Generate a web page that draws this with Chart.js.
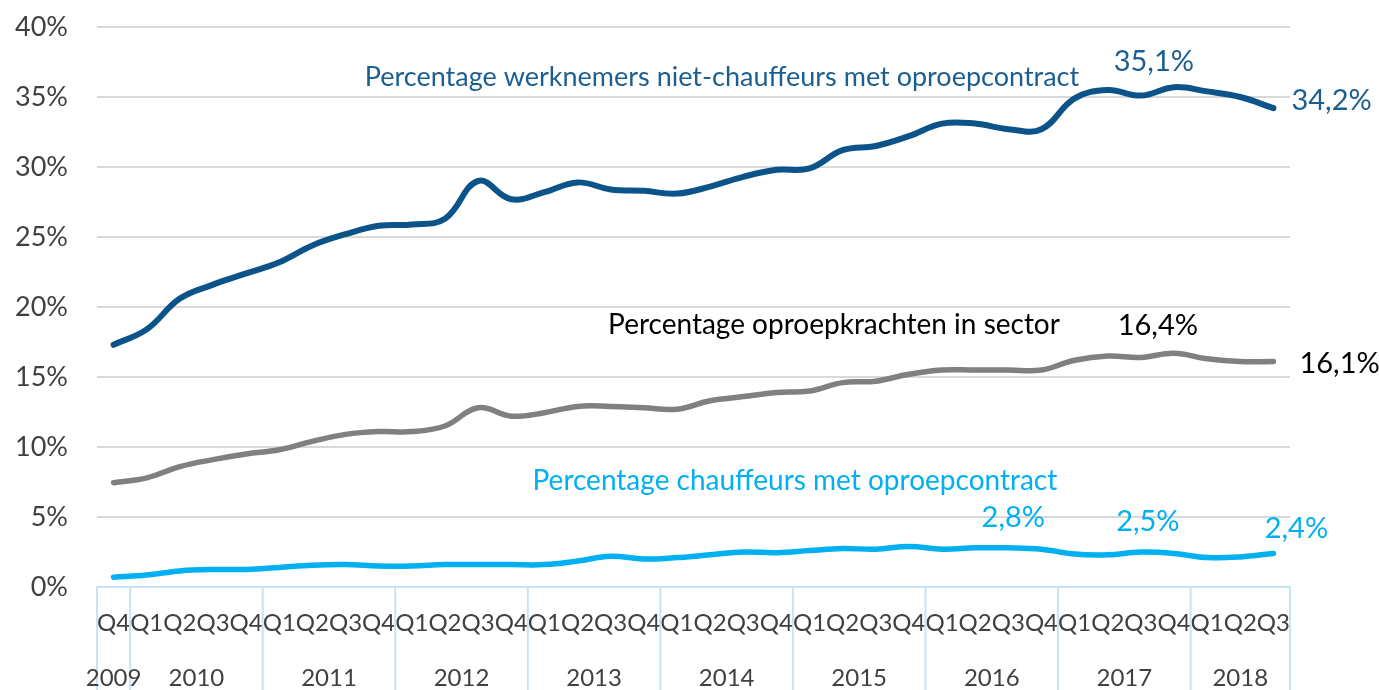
<!DOCTYPE html>
<html>
<head>
<meta charset="utf-8">
<script src="https://cdn.jsdelivr.net/npm/chart.js@4/dist/chart.umd.min.js"></script>
<style>
  html, body { margin: 0; padding: 0; background: #ffffff; }
  #wrap { width: 1379px; height: 690px; }
</style>
</head>
<body>
<div id="wrap"><canvas id="grafiek" width="1379" height="690"></canvas></div>
<script>
// kwartalen Q4 2009 t/m Q3 2018
const kwartalen = ["Q4",
  "Q1", "Q2", "Q3", "Q4", "Q1", "Q2", "Q3", "Q4", "Q1", "Q2", "Q3", "Q4",
  "Q1", "Q2", "Q3", "Q4", "Q1", "Q2", "Q3", "Q4", "Q1", "Q2", "Q3", "Q4",
  "Q1", "Q2", "Q3", "Q4", "Q1", "Q2", "Q3", "Q4", "Q1", "Q2", "Q3"];
const jaren = ["2009", "2010", "2011", "2012", "2013", "2014", "2015", "2016", "2017", "2018"];

const nietChauffeurs = [17.3, 18.4, 20.6, 21.6, 22.4, 23.2, 24.4, 25.2, 25.8, 25.9, 26.3, 29.0,
  27.7, 28.2, 28.9, 28.4, 28.3, 28.1, 28.6, 29.3, 29.8, 29.9, 31.2, 31.5,
  32.2, 33.1, 33.1, 32.7, 32.7, 34.9, 35.5, 35.1, 35.7, 35.4, 35.0, 34.2];
const oproepSector = [7.45, 7.8, 8.6, 9.1, 9.5, 9.8, 10.4, 10.9, 11.1, 11.1, 11.5, 12.8,
  12.2, 12.45, 12.9, 12.9, 12.8, 12.7, 13.3, 13.6, 13.9, 14.0, 14.6, 14.7,
  15.2, 15.5, 15.5, 15.5, 15.5, 16.2, 16.5, 16.4, 16.7, 16.3, 16.1, 16.1];
const chauffeurs = [0.7, 0.85, 1.15, 1.25, 1.25, 1.4, 1.55, 1.6, 1.5, 1.5, 1.6, 1.6,
  1.6, 1.6, 1.85, 2.2, 2.0, 2.1, 2.3, 2.5, 2.45, 2.6, 2.75, 2.7,
  2.9, 2.7, 2.8, 2.8, 2.7, 2.35, 2.3, 2.5, 2.4, 2.1, 2.15, 2.4];

const yTicks = [0, 5, 10, 15, 20, 25, 30, 35, 40];

const kleurDonker = "#0b5389";
const kleurGrijs = "#808080";
const kleurLicht = "#00b0f0";
const FONT = "Lato, 'Open Sans', sans-serif";

// series-namen in data-coordinaten (index, waarde)
const reeksNamen = [
  { tekst: "Percentage werknemers niet-chauffeurs met oproepcontract", idx: 18.36, val: 36.43, kleur: "#1b5e91", size: 27 },
  { tekst: "Percentage oproepkrachten in sector", idx: 21.74, val: 18.71, kleur: "#000000", size: 28 },
  { tekst: "Percentage chauffeurs met oproepcontract", idx: 20.56, val: 7.57, kleur: kleurLicht, size: 28 }
];

// waardelabels bij punten
const waardeLabels = [
  { reeks: 0, idx: 31, tekst: "35,1%", align: "center", dx: 13, dy: -34, kleur: "#1b5e91" },
  { reeks: 0, idx: 35, tekst: "34,2%", align: "left", dx: 18, dy: -8, kleur: "#1b5e91" },
  { reeks: 1, idx: 31, tekst: "16,4%", align: "center", dx: 17, dy: -32, kleur: "#000000" },
  { reeks: 1, idx: 35, tekst: "16,1%", align: "left", dx: 26, dy: 2, kleur: "#000000" },
  { reeks: 2, idx: 27, tekst: "2,8%", align: "center", dx: 5, dy: -30, kleur: kleurLicht },
  { reeks: 2, idx: 31, tekst: "2,5%", align: "center", dx: 7, dy: -30, kleur: kleurLicht },
  { reeks: 2, idx: 35, tekst: "2,4%", align: "center", dx: 23, dy: -25, kleur: kleurLicht }
];

// jaar-scheidingen, jaarlabels en teksten
const jaarAs = {
  id: "jaarAs",
  afterDraw(chart) {
    const ctx = chart.ctx;
    const x = chart.scales.x;
    const y = chart.scales.y;
    const area = chart.chartArea;

    // startindex van elk jaar
    const starts = [0];
    kwartalen.forEach((q, i) => { if (i > 0 && q === "Q1") starts.push(i); });

    ctx.save();
    ctx.strokeStyle = "#c9e3f6";
    ctx.lineWidth = 2;
    const grenzen = [area.left];
    starts.slice(1).forEach((s) => grenzen.push(x.getPixelForValue(s - 0.5)));
    grenzen.push(area.right);
    grenzen.forEach((gx) => {
      ctx.beginPath();
      ctx.moveTo(gx, area.bottom);
      ctx.lineTo(gx, chart.height);
      ctx.stroke();
    });

    ctx.fillStyle = "#404040";
    ctx.font = "24px " + FONT;
    ctx.textAlign = "center";
    ctx.textBaseline = "middle";
    starts.forEach((s, j) => {
      const eind = j + 1 < starts.length ? starts[j + 1] - 1 : kwartalen.length - 1;
      const midden = (x.getPixelForValue(s) + x.getPixelForValue(eind)) / 2;
      ctx.fillText(jaren[j], midden, 678);
    });

    // namen van de reeksen
    reeksNamen.forEach((r) => {
      ctx.font = r.size + "px " + FONT;
      ctx.fillStyle = r.kleur;
      ctx.fillText(r.tekst, x.getPixelForValue(r.idx), y.getPixelForValue(r.val));
    });

    // waardelabels
    ctx.font = "29px " + FONT;
    waardeLabels.forEach((l) => {
      const pt = chart.getDatasetMeta(l.reeks).data[l.idx];
      ctx.fillStyle = l.kleur;
      ctx.textAlign = l.align;
      ctx.fillText(l.tekst, pt.x + l.dx, pt.y + l.dy);
    });
    ctx.restore();
  }
};

new Chart(document.getElementById("grafiek"), {
  type: "line",
  data: {
    labels: kwartalen,
    datasets: [
      { label: "Niet-chauffeurs", data: nietChauffeurs, borderColor: kleurDonker, borderWidth: 6 },
      { label: "Oproepkrachten sector", data: oproepSector, borderColor: kleurGrijs, borderWidth: 5.5 },
      { label: "Chauffeurs", data: chauffeurs, borderColor: kleurLicht, borderWidth: 5.5 }
    ]
  },
  options: {
    responsive: false,
    animation: false,
    devicePixelRatio: 1,
    layout: { padding: { top: 27, right: 89, bottom: 0, left: 0 } },
    elements: {
      point: { radius: 0 },
      line: { tension: 0.4, borderCapStyle: "round", borderJoinStyle: "round", fill: false }
    },
    plugins: { legend: { display: false }, tooltip: { enabled: false } },
    scales: {
      x: {
        offset: true,
        grid: { display: false, drawTicks: false },
        border: { display: true, color: "#c9e3f6", width: 2 },
        ticks: {
          autoSkip: false, maxRotation: 0, minRotation: 0,
          color: "#404040", font: { family: FONT, size: 24 }, padding: 22
        },
        afterFit(scale) { scale.height = 103; scale.paddingTop = 0; scale.paddingBottom = 0; }
      },
      y: {
        min: 0, max: 40,
        afterBuildTicks(scale) { scale.ticks = yTicks.map((v) => ({ value: v })); },
        grid: { color: "#d9d9d9", lineWidth: 2, drawTicks: false },
        border: { display: false },
        ticks: {
          color: "#404040", font: { family: FONT, size: 27 }, padding: 29,
          callback: (v) => v + "%"
        },
        afterFit(scale) { scale.width = 97; scale.paddingTop = 0; scale.paddingBottom = 0; }
      }
    }
  },
  plugins: [jaarAs]
});
</script>
</body>
</html>
